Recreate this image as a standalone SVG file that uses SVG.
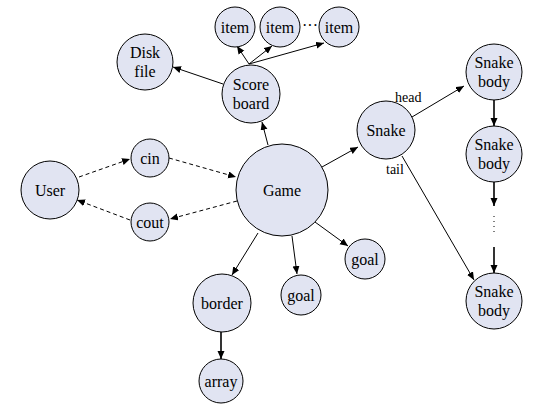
<svg xmlns="http://www.w3.org/2000/svg" width="537" height="415" viewBox="0 0 537 415">
<style>
.n{fill:#e1e4f2;stroke:#000;stroke-width:1}
.c{stroke:#000;stroke-width:1;fill:none;marker-end:url(#ah)}
.d{stroke-dasharray:4 3}
.v{stroke-width:1.6}
</style>
<defs>
<marker id="ah" markerUnits="userSpaceOnUse" markerWidth="9" markerHeight="8" refX="8" refY="3.5" orient="auto">
<path d="M0,0 L8,3.5 L0,7 z" fill="#000"/>
</marker>
</defs>
<rect width="537" height="415" fill="#fff"/>
<g id="connectors">
<line class="c d" x1="79" y1="177" x2="130" y2="159"/>
<line class="c d" x1="169" y1="158" x2="236" y2="177"/>
<line class="c d" x1="237" y1="201" x2="170" y2="219"/>
<line class="c d" x1="130" y1="220" x2="77" y2="200"/>
<line class="c" x1="268" y1="145" x2="262" y2="122"/>
<line class="c" x1="223" y1="84" x2="173" y2="67"/>
<line class="c" x1="249" y1="64" x2="237" y2="46"/>
<line class="c" x1="249" y1="64" x2="272" y2="46"/>
<line class="c" x1="249" y1="64" x2="324" y2="43"/>
<line class="c" x1="322" y1="167" x2="358" y2="147"/>
<line class="c" x1="412" y1="117" x2="464" y2="86"/>
<line class="c" x1="402" y1="156" x2="474" y2="280"/>
<line class="c" x1="315" y1="222" x2="348" y2="246"/>
<line class="c" x1="292" y1="236" x2="297" y2="274"/>
<line class="c" x1="258" y1="233" x2="232" y2="275"/>
<line class="c v" x1="221" y1="332" x2="221" y2="359"/>
<line class="c v" x1="494" y1="100" x2="494" y2="126"/>
<line class="c v" x1="494" y1="182" x2="494" y2="206"/>
<line x1="494" y1="216" x2="494" y2="235" stroke="#000" stroke-width="1" stroke-dasharray="1 4"/>
<line class="c v" x1="494" y1="247" x2="494" y2="273"/>
</g>
<g font-family="Liberation Serif, serif" font-size="16" text-anchor="middle" fill="#000">
<g id="labels" font-size="14" text-anchor="start">
<text x="395" y="102">head</text>
<text x="386" y="174">tail</text>
</g>
<text x="310" y="31">···</text>
<g id="user"><circle class="n" cx="50" cy="190" r="29"/><text x="50" y="195.5">User</text></g>
<g id="cin"><circle class="n" cx="150" cy="158" r="19"/><text x="150" y="163.5">cin</text></g>
<g id="cout"><circle class="n" cx="150" cy="222" r="19"/><text x="150" y="227.5">cout</text></g>
<g id="game"><circle class="n" cx="282" cy="190" r="46"/><text x="282" y="195.5">Game</text></g>
<g id="diskfile"><circle class="n" cx="145" cy="62" r="28"/><text x="145" y="58">Disk</text><text x="145" y="76.5">file</text></g>
<g id="scoreboard"><circle class="n" cx="251" cy="94" r="29"/><text x="251" y="90">Score</text><text x="251" y="108.5">board</text></g>
<g id="item1"><circle class="n" cx="235" cy="27" r="20"/><text x="235" y="32.5">item</text></g>
<g id="item2"><circle class="n" cx="280" cy="27" r="20"/><text x="280" y="32.5">item</text></g>
<g id="item3"><circle class="n" cx="339" cy="27" r="20"/><text x="339" y="32.5">item</text></g>
<g id="snake"><circle class="n" cx="386" cy="130" r="29"/><text x="386" y="135.5">Snake</text></g>
<g id="body1"><circle class="n" cx="494" cy="72" r="28"/><text x="494" y="68">Snake</text><text x="494" y="86.5">body</text></g>
<g id="body2"><circle class="n" cx="494" cy="154" r="28"/><text x="494" y="150">Snake</text><text x="494" y="168.5">body</text></g>
<g id="body3"><circle class="n" cx="494" cy="301" r="28"/><text x="494" y="297">Snake</text><text x="494" y="315.5">body</text></g>
<g id="goal1"><circle class="n" cx="365" cy="259" r="20"/><text x="365" y="264.5">goal</text></g>
<g id="goal2"><circle class="n" cx="301" cy="295" r="20"/><text x="301" y="300.5">goal</text></g>
<g id="border"><circle class="n" cx="222" cy="303" r="29"/><text x="222" y="308.5">border</text></g>
<g id="array"><circle class="n" cx="221" cy="381" r="22"/><text x="221" y="386.5">array</text></g>
</g>
</svg>
